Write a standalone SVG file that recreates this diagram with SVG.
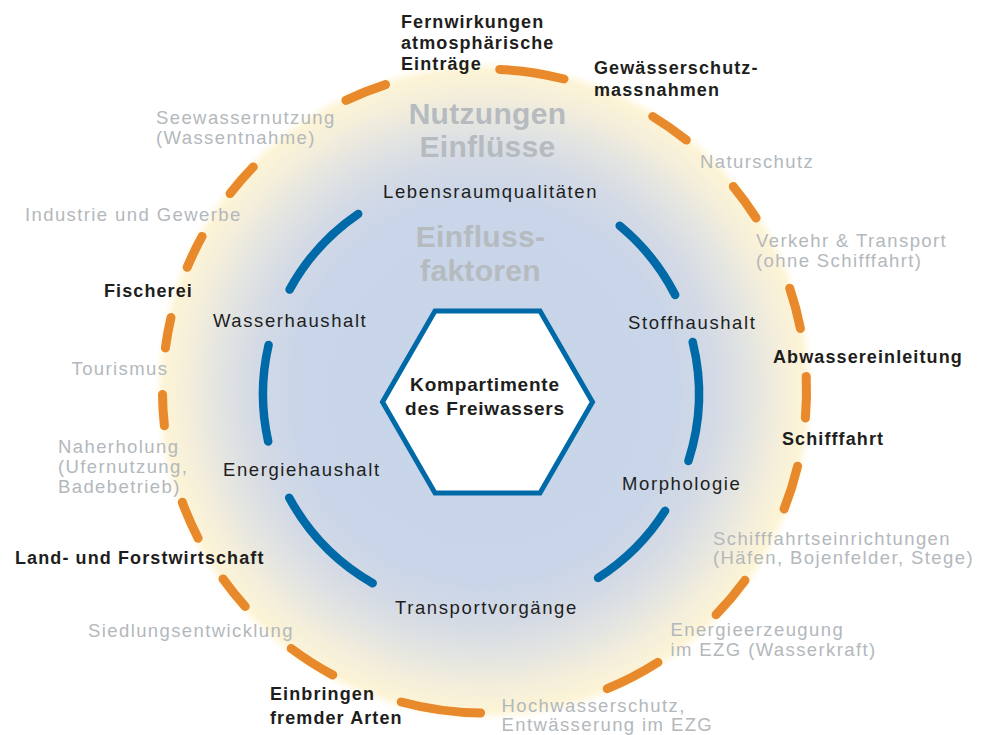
<svg xmlns="http://www.w3.org/2000/svg" width="981" height="735" viewBox="0 0 981 735">
<defs>
<radialGradient id="bg" gradientUnits="userSpaceOnUse" cx="484.5" cy="391" r="330">
<stop offset="0" stop-color="#c8d4e8"/>
<stop offset="0.58" stop-color="#c9d5e8"/>
<stop offset="0.7" stop-color="#d4dae5"/>
<stop offset="0.8" stop-color="#e2e4e2"/>
<stop offset="0.9" stop-color="#f4eedb"/>
<stop offset="0.97" stop-color="#fdf4d6"/>
<stop offset="1" stop-color="#ffffff"/>
</radialGradient>
<style>
.ring{fill:none;stroke:#e8892b;stroke-width:9;stroke-linecap:round}
.arc{fill:none;stroke:#006aa8;stroke-width:8.5;stroke-linecap:round}
.g{font-family:"Liberation Sans",Arial,sans-serif;font-size:18.5px;fill:#b3b8bc;letter-spacing:1.4px}
.i{font-family:"Liberation Sans",Arial,sans-serif;font-size:18.5px;fill:#1e1e1c;letter-spacing:1.6px}
.b{font-family:"Liberation Sans",Arial,sans-serif;font-size:18px;font-weight:bold;fill:#1e1e1c;letter-spacing:1.1px}
.big{font-family:"Liberation Sans",Arial,sans-serif;font-size:30px;font-weight:bold;fill:#b6bbbf;letter-spacing:0.3px;text-anchor:middle}
.h{font-family:"Liberation Sans",Arial,sans-serif;font-size:19px;font-weight:bold;fill:#1e1e1c;letter-spacing:0.8px;text-anchor:middle}
</style>
</defs>
<rect width="981" height="735" fill="#ffffff"/>
<circle id="background" cx="484.5" cy="391" r="330" fill="url(#bg)"/>

<g id="ring">
<path class="ring" d="M499.7 69.4 A322 322 0 0 1 564.0 79.0"/>
<path class="ring" d="M652.7 116.5 A322 322 0 0 1 686.3 140.1"/>
<path class="ring" d="M733.3 186.6 A322 322 0 0 1 756.1 218.0"/>
<path class="ring" d="M789.7 288.3 A322 322 0 0 1 800.4 328.5"/>
<path class="ring" d="M806.2 376.4 A322 322 0 0 1 805.4 418.0"/>
<path class="ring" d="M797.6 466.2 A322 322 0 0 1 784.1 509.0"/>
<path class="ring" d="M745.0 580.3 A322 322 0 0 1 716.1 614.7"/>
<path class="ring" d="M658.0 662.3 A322 322 0 0 1 607.2 688.7"/>
<path class="ring" d="M480.6 713.0 A322 322 0 0 1 401.2 702.0"/>
<path class="ring" d="M332.8 675.0 A322 322 0 0 1 291.2 648.5"/>
<path class="ring" d="M245.2 606.4 A322 322 0 0 1 223.0 578.9"/>
<path class="ring" d="M198.1 538.2 A322 322 0 0 1 182.3 502.2"/>
<path class="ring" d="M164.4 425.8 A322 322 0 0 1 162.5 394.4"/>
<path class="ring" d="M165.4 347.9 A322 322 0 0 1 171.0 317.5"/>
<path class="ring" d="M187.2 267.3 A322 322 0 0 1 202.1 236.4"/>
<path class="ring" d="M230.1 193.6 A322 322 0 0 1 253.3 166.9"/>
<path class="ring" d="M345.9 100.4 A322 322 0 0 1 385.5 84.6"/>
</g>

<g id="connectors">
<path class="arc" d="M289.6 289.6 A218 218 0 0 1 358.2 213.9"/>
<path class="arc" d="M619.7 225.8 A218 218 0 0 1 675.2 295.0"/>
<path class="arc" d="M692.7 342.0 A218 218 0 0 1 688.4 461.0"/>
<path class="arc" d="M665.1 510.8 A218 218 0 0 1 598.1 577.9"/>
<path class="arc" d="M372.7 583.2 A218 218 0 0 1 289.2 497.7"/>
<path class="arc" d="M268.2 441.5 A218 218 0 0 1 268.6 344.9"/>
</g>

<g id="titles">
<text class="big" x="487.5" y="123.5">Nutzungen</text>
<text class="big" x="487.5" y="157">Einflüsse</text>
<text class="big" x="480.5" y="247">Einfluss-</text>
<text class="big" x="480.5" y="281">faktoren</text>
</g>

<g id="hexagon">
<polygon points="382.5,402 435,311 540,311 592.5,402 540,493 435,493" fill="#ffffff" stroke="#006aa8" stroke-width="5" stroke-linejoin="miter"/>
<text class="h" x="485" y="391">Kompartimente</text>
<text class="h" x="485" y="415">des Freiwassers</text>
</g>

<g id="factor-lebensraum"><text class="i" x="383" y="198">Lebensraumqualitäten</text></g>
<g id="factor-wasser"><text class="i" x="213" y="327">Wasserhaushalt</text></g>
<g id="factor-stoff"><text class="i" x="628" y="329">Stoffhaushalt</text></g>
<g id="factor-energie"><text class="i" x="223" y="476">Energiehaushalt</text></g>
<g id="factor-morphologie"><text class="i" x="622" y="490">Morphologie</text></g>
<g id="factor-transport"><text class="i" x="395" y="614">Transportvorgänge</text></g>

<g id="use-fernwirkungen"><text class="b" x="401" y="27.5">Fernwirkungen</text><text class="b" x="401" y="49">atmosphärische</text><text class="b" x="401" y="70">Einträge</text></g>
<g id="use-gewaesserschutz"><text class="b" x="594" y="74">Gewässerschutz-</text><text class="b" x="594" y="96">massnahmen</text></g>
<g id="use-naturschutz"><text class="g" x="700" y="168">Naturschutz</text></g>
<g id="use-verkehr"><text class="g" x="756" y="247">Verkehr &amp; Transport</text><text class="g" x="756" y="267">(ohne Schifffahrt)</text></g>
<g id="use-abwasser"><text class="b" x="773" y="363">Abwassereinleitung</text></g>
<g id="use-schifffahrt"><text class="b" x="782" y="445">Schifffahrt</text></g>
<g id="use-schifffahrtseinrichtungen"><text class="g" x="713" y="545">Schifffahrtseinrichtungen</text><text class="g" x="713" y="564">(Häfen, Bojenfelder, Stege)</text></g>
<g id="use-energieerzeugung"><text class="g" x="670.5" y="636">Energieerzeugung</text><text class="g" x="670.5" y="656">im EZG (Wasserkraft)</text></g>
<g id="use-hochwasserschutz"><text class="g" x="501.5" y="711.5">Hochwasserschutz,</text><text class="g" x="501.5" y="731">Entwässerung im EZG</text></g>
<g id="use-einbringen"><text class="b" x="270" y="700">Einbringen</text><text class="b" x="270" y="724">fremder Arten</text></g>
<g id="use-siedlung"><text class="g" x="88" y="636.5">Siedlungsentwicklung</text></g>
<g id="use-landwirtschaft"><text class="b" x="15" y="564">Land- und Forstwirtschaft</text></g>
<g id="use-naherholung"><text class="g" x="58" y="453">Naherholung</text><text class="g" x="58" y="473">(Ufernutzung,</text><text class="g" x="58" y="493">Badebetrieb)</text></g>
<g id="use-tourismus"><text class="g" x="71.5" y="375">Tourismus</text></g>
<g id="use-fischerei"><text class="b" x="104" y="297">Fischerei</text></g>
<g id="use-industrie"><text class="g" x="25" y="221">Industrie und Gewerbe</text></g>
<g id="use-seewasser"><text class="g" x="156" y="124">Seewassernutzung</text><text class="g" x="156" y="144">(Wassentnahme)</text></g>
</svg>
